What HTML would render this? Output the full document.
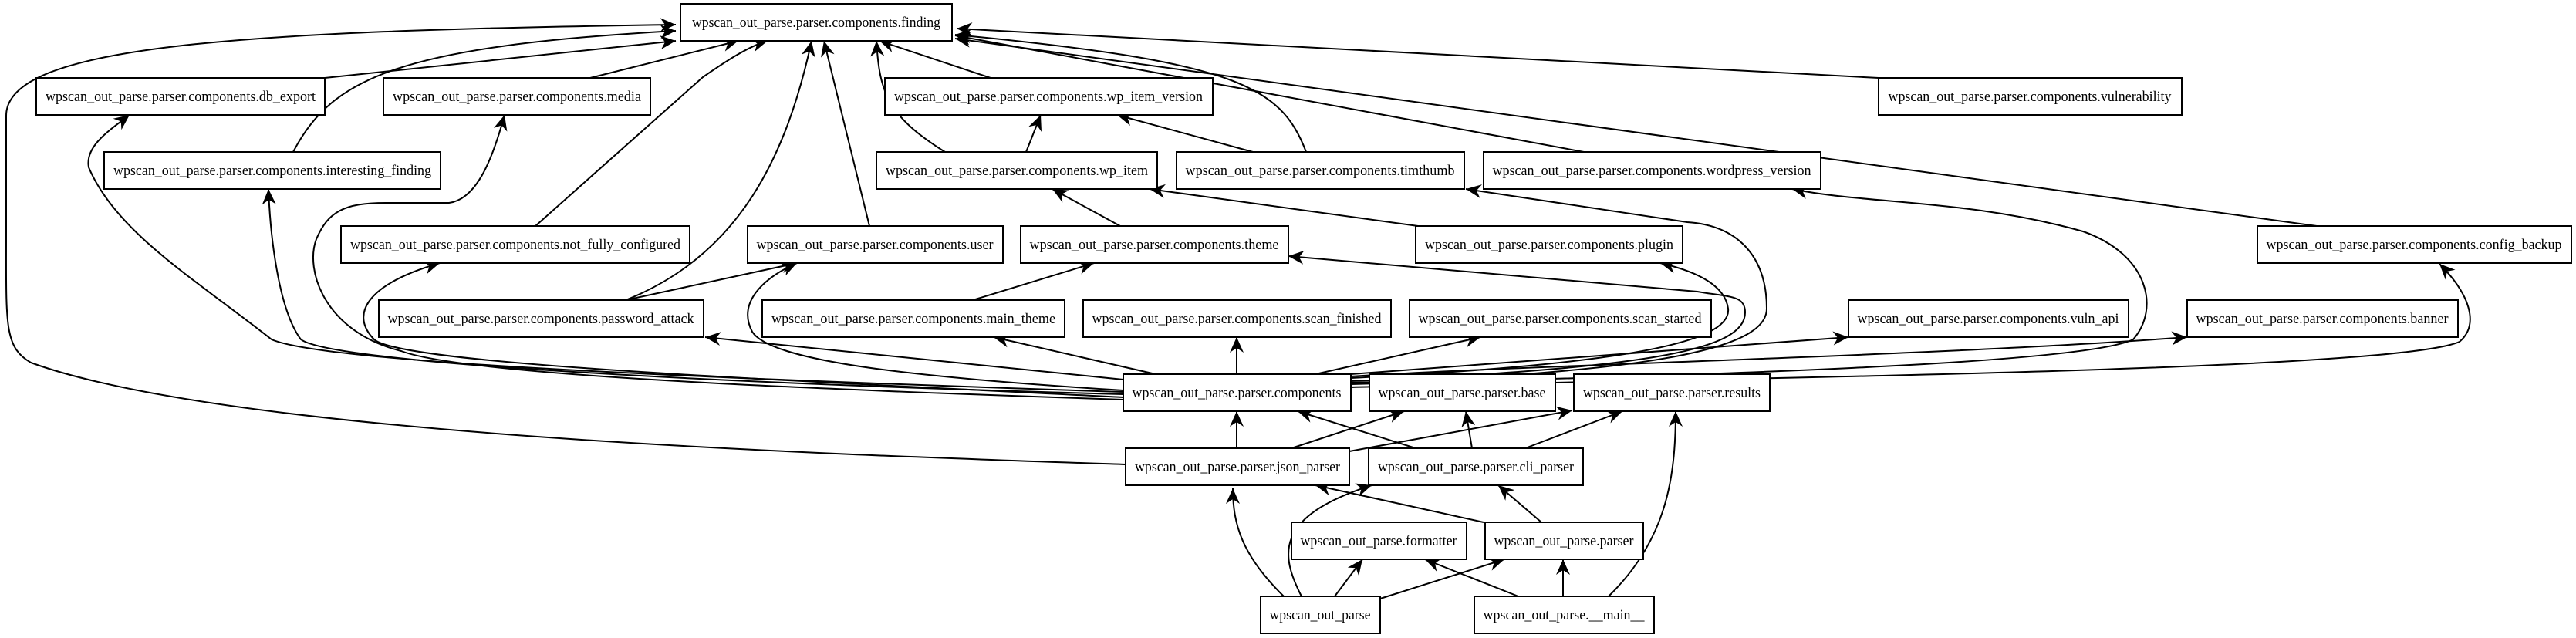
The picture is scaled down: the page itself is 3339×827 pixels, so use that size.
<!DOCTYPE html>
<html><head><meta charset="utf-8"><style>
html,body{margin:0;padding:0;background:#fff;}
svg{display:block;}
text{font-family:"Liberation Serif",serif;font-size:19px;fill:#000;}
</style></head><body>
<svg width="3339" height="827" viewBox="0 0 3339 827" xmlns="http://www.w3.org/2000/svg">
<defs>
<marker id="a" markerUnits="userSpaceOnUse" markerWidth="24" markerHeight="20" refX="20" refY="10" orient="auto">
<path d="M0,1 L20,10 L0,19 L6,10 Z" fill="#000"/>
</marker>
</defs>
<g fill="none" stroke="#000" stroke-width="2" marker-end="url(#a)">
<path d="M421,101 L876,53"/>
<path d="M765,101 L957,53"/>
<path d="M380,197 C430,100 520,60 876,40"/>
<path d="M1459,602 C1100,590 300,565 40,470 C5,450 8,420 8,300 L8,150 C8,60 300,40 876,32"/>
<path d="M694,293 L911,100 C940,80 970,60 995,53"/>
<path d="M811,389 C960,330 1020,200 1052,53"/>
<path d="M1127,293 L1068,53"/>
<path d="M1225,197 C1150,150 1140,120 1136,53"/>
<path d="M1284,101 L1140,53"/>
<path d="M1693,197 C1660,110 1600,80 1238,45"/>
<path d="M2053,197 L1238,46"/>
<path d="M2435,101 L1240,37"/>
<path d="M3003,293 L1238,50"/>
<path d="M1330,197 L1349,149"/>
<path d="M1624,197 L1448,149"/>
<path d="M1452,293 L1364,245"/>
<path d="M1838,293 L1490,245"/>
<path d="M1261,389 L1418,341"/>
<path d="M811,389 L1033,341"/>
<path d="M1456,492 L914,437"/>
<path d="M1498,485 L1288,437"/>
<path d="M1603,485 L1603,437"/>
<path d="M1705,485 L1919,437"/>
<path d="M1751,485 L2396,437"/>
<path d="M1751,488 C2000,472 2500,462 2835,437"/>
<path d="M1751,502 C2200,490 3100,482 3188,443 C3215,420 3200,380 3162,342"/>
<path d="M1751,498 C2200,487 2700,472 2765,440 C2800,400 2785,330 2700,300 C2550,258 2420,265 2323,245"/>
<path d="M1751,490 C2100,472 2245,445 2240,400 C2236,370 2200,352 2152,341"/>
<path d="M1751,494 C2150,477 2262,452 2262,405 C2262,382 2240,385 2200,378 L1670,332"/>
<path d="M1751,496 C2200,482 2290,442 2290,400 C2290,330 2250,292 2187,288 L1900,245"/>
<path d="M1456,506 C1200,490 1000,470 975,430 C955,392 990,360 1033,341"/>
<path d="M1456,515 C1000,492 520,472 485,440 C455,410 470,370 570,341"/>
<path d="M1456,518 C1000,503 600,485 520,455 C420,430 395,350 410,310 C425,275 445,263 500,263 L582,263 C620,258 640,200 654,149"/>
<path d="M1456,511 C900,496 430,470 390,440 C360,400 350,300 348,245"/>
<path d="M1456,508 C900,490 420,470 352,440 C250,360 150,300 115,217 C110,190 140,170 168,149"/>
<path d="M1603,581 L1603,533"/>
<path d="M1835,581 L1682,533"/>
<path d="M1674,581 L1820,533"/>
<path d="M1749,585 L2038,532"/>
<path d="M1908,581 L1900,533"/>
<path d="M1977,581 L2103,533"/>
<path d="M1923,677 L1705,629"/>
<path d="M1998,677 L1942,629"/>
<path d="M1664,773 C1610,720 1598,680 1598,633"/>
<path d="M1687,773 C1660,720 1650,670 1778,629"/>
<path d="M1730,773 L1766,725"/>
<path d="M1789,776 L1950,725"/>
<path d="M1968,773 L1847,725"/>
<path d="M2026,773 L2026,725"/>
<path d="M2085,773 C2160,700 2172,620 2172,533"/>
</g>
<g fill="#fff" stroke="#000" stroke-width="2">
<rect x="882" y="5" width="352" height="48"/>
<rect x="47" y="101" width="374" height="48"/>
<rect x="497" y="101" width="346" height="48"/>
<rect x="1147" y="101" width="425" height="48"/>
<rect x="2435" y="101" width="393" height="48"/>
<rect x="135" y="197" width="436" height="48"/>
<rect x="1136" y="197" width="364" height="48"/>
<rect x="1525" y="197" width="373" height="48"/>
<rect x="1923" y="197" width="437" height="48"/>
<rect x="442" y="293" width="452" height="48"/>
<rect x="969" y="293" width="331" height="48"/>
<rect x="1323" y="293" width="347" height="48"/>
<rect x="1835" y="293" width="346" height="48"/>
<rect x="2926" y="293" width="407" height="48"/>
<rect x="491" y="389" width="421" height="48"/>
<rect x="988" y="389" width="392" height="48"/>
<rect x="1404" y="389" width="399" height="48"/>
<rect x="1827" y="389" width="391" height="48"/>
<rect x="2396" y="389" width="363" height="48"/>
<rect x="2835" y="389" width="351" height="48"/>
<rect x="1456" y="485" width="295" height="48"/>
<rect x="1775" y="485" width="241" height="48"/>
<rect x="2040" y="485" width="254" height="48"/>
<rect x="1459" y="581" width="290" height="48"/>
<rect x="1774" y="581" width="278" height="48"/>
<rect x="1674" y="677" width="227" height="48"/>
<rect x="1925" y="677" width="205" height="48"/>
<rect x="1634" y="773" width="155" height="48"/>
<rect x="1911" y="773" width="233" height="48"/>
</g>
<g text-anchor="middle">
<text x="1058" y="35" textLength="322" lengthAdjust="spacingAndGlyphs">wpscan_out_parse.parser.components.finding</text>
<text x="234" y="131" textLength="350" lengthAdjust="spacingAndGlyphs">wpscan_out_parse.parser.components.db_export</text>
<text x="670" y="131" textLength="322" lengthAdjust="spacingAndGlyphs">wpscan_out_parse.parser.components.media</text>
<text x="1359" y="131" textLength="400" lengthAdjust="spacingAndGlyphs">wpscan_out_parse.parser.components.wp_item_version</text>
<text x="2631" y="131" textLength="367" lengthAdjust="spacingAndGlyphs">wpscan_out_parse.parser.components.vulnerability</text>
<text x="353" y="227" textLength="412" lengthAdjust="spacingAndGlyphs">wpscan_out_parse.parser.components.interesting_finding</text>
<text x="1318" y="227" textLength="340" lengthAdjust="spacingAndGlyphs">wpscan_out_parse.parser.components.wp_item</text>
<text x="1711" y="227" textLength="349" lengthAdjust="spacingAndGlyphs">wpscan_out_parse.parser.components.timthumb</text>
<text x="2141" y="227" textLength="413" lengthAdjust="spacingAndGlyphs">wpscan_out_parse.parser.components.wordpress_version</text>
<text x="668" y="323" textLength="428" lengthAdjust="spacingAndGlyphs">wpscan_out_parse.parser.components.not_fully_configured</text>
<text x="1134" y="323" textLength="307" lengthAdjust="spacingAndGlyphs">wpscan_out_parse.parser.components.user</text>
<text x="1496" y="323" textLength="323" lengthAdjust="spacingAndGlyphs">wpscan_out_parse.parser.components.theme</text>
<text x="2008" y="323" textLength="322" lengthAdjust="spacingAndGlyphs">wpscan_out_parse.parser.components.plugin</text>
<text x="3129" y="323" textLength="383" lengthAdjust="spacingAndGlyphs">wpscan_out_parse.parser.components.config_backup</text>
<text x="701" y="419" textLength="397" lengthAdjust="spacingAndGlyphs">wpscan_out_parse.parser.components.password_attack</text>
<text x="1184" y="419" textLength="368" lengthAdjust="spacingAndGlyphs">wpscan_out_parse.parser.components.main_theme</text>
<text x="1603" y="419" textLength="375" lengthAdjust="spacingAndGlyphs">wpscan_out_parse.parser.components.scan_finished</text>
<text x="2022" y="419" textLength="367" lengthAdjust="spacingAndGlyphs">wpscan_out_parse.parser.components.scan_started</text>
<text x="2577" y="419" textLength="339" lengthAdjust="spacingAndGlyphs">wpscan_out_parse.parser.components.vuln_api</text>
<text x="3010" y="419" textLength="327" lengthAdjust="spacingAndGlyphs">wpscan_out_parse.parser.components.banner</text>
<text x="1603" y="515" textLength="271" lengthAdjust="spacingAndGlyphs">wpscan_out_parse.parser.components</text>
<text x="1895" y="515" textLength="217" lengthAdjust="spacingAndGlyphs">wpscan_out_parse.parser.base</text>
<text x="2167" y="515" textLength="230" lengthAdjust="spacingAndGlyphs">wpscan_out_parse.parser.results</text>
<text x="1604" y="611" textLength="266" lengthAdjust="spacingAndGlyphs">wpscan_out_parse.parser.json_parser</text>
<text x="1913" y="611" textLength="254" lengthAdjust="spacingAndGlyphs">wpscan_out_parse.parser.cli_parser</text>
<text x="1787" y="707" textLength="203" lengthAdjust="spacingAndGlyphs">wpscan_out_parse.formatter</text>
<text x="2027" y="707" textLength="181" lengthAdjust="spacingAndGlyphs">wpscan_out_parse.parser</text>
<text x="1711" y="803" textLength="131" lengthAdjust="spacingAndGlyphs">wpscan_out_parse</text>
<text x="2027" y="803" textLength="209" lengthAdjust="spacingAndGlyphs">wpscan_out_parse.__main__</text>
</g>
</svg>
</body></html>
